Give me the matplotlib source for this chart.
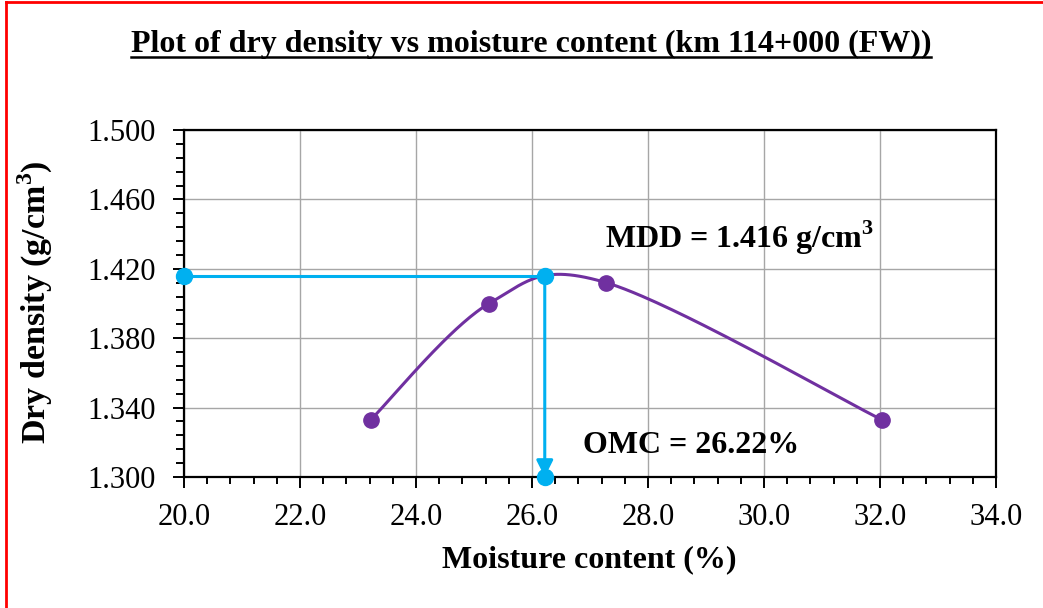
import numpy as np
import matplotlib
matplotlib.use("Agg")
import matplotlib.pyplot as plt
from matplotlib.lines import Line2D
from matplotlib.ticker import MultipleLocator, FormatStrFormatter

# Compaction test results
moisture = [23.22, 25.26, 27.28, 32.03]
dry_density = [1.333, 1.400, 1.412, 1.333]
omc = 26.22
mdd = 1.416

title = "Plot of dry density vs moisture content (km 114+000 (FW))"
xlabel = "Moisture content (%)"
ylabel = r"Dry density (g/cm$^{\mathbf{3}}$)"

plt.rcParams["font.family"] = "Liberation Serif"
plt.rcParams["mathtext.fontset"] = "custom"
plt.rcParams["mathtext.rm"] = "Liberation Serif"
plt.rcParams["mathtext.bf"] = "Liberation Serif:bold"

PURPLE = "#7030A0"
CYAN = "#00B0F0"


def smooth_curve(xs, ys, n=60):
    """Spreadsheet-style smoothed line: cubic Bezier segments with
    Catmull-Rom control points."""
    p = np.column_stack([xs, ys]).astype(float)
    out = []
    for i in range(len(p) - 1):
        p0 = p[i - 1] if i > 0 else p[i]
        p1, p2 = p[i], p[i + 1]
        p3 = p[i + 2] if i + 2 < len(p) else p[i + 1]
        c1 = p1 + (p2 - p0) / 6.0
        c2 = p2 - (p3 - p1) / 6.0
        t = np.linspace(0, 1, n)[:, None]
        seg = ((1 - t) ** 3) * p1 + 3 * ((1 - t) ** 2) * t * c1 \
            + 3 * (1 - t) * t ** 2 * c2 + t ** 3 * p2
        out.append(seg if i == 0 else seg[1:])
    pts = np.vstack(out)
    return pts[:, 0], pts[:, 1]


fig = plt.figure(figsize=(10.43, 6.08), dpi=100)
ax = fig.add_axes([184 / 1043, 1 - 477 / 608, 812 / 1043, 347 / 608])

ax.set_xlim(20, 34)
ax.set_ylim(1.300, 1.500)
ax.xaxis.set_major_locator(MultipleLocator(2))
ax.xaxis.set_minor_locator(MultipleLocator(0.4))
ax.yaxis.set_major_locator(MultipleLocator(0.04, offset=0.02))
ax.yaxis.set_minor_locator(MultipleLocator(0.008, offset=0.004))
ax.xaxis.set_major_formatter(FormatStrFormatter("%.1f"))
ax.yaxis.set_major_formatter(FormatStrFormatter("%.3f"))

ax.grid(True, which="major", color="#A6A6A6", linewidth=1.0)
ax.set_axisbelow(True)
for s in ax.spines.values():
    s.set_linewidth(1.6)
    s.set_color("black")

ax.tick_params(axis="both", which="both", direction="out", width=1.4,
               labelsize=22, colors="black")
ax.tick_params(axis="x", which="major", length=8, pad=11)
ax.tick_params(axis="x", which="minor", length=5)
ax.tick_params(axis="y", which="major", length=8, pad=12)
ax.tick_params(axis="y", which="minor", length=6)

# Compaction curve
sx, sy = smooth_curve(moisture, dry_density)
ax.plot(sx, sy, color=PURPLE, linewidth=2.2, zorder=3)
ax.plot(moisture, dry_density, "o", color=PURPLE, markersize=11, zorder=4)

# MDD / OMC guide lines
ax.plot([20, omc], [mdd, mdd], color=CYAN, linewidth=2.2, zorder=5,
        clip_on=False)
ax.annotate("", xy=(omc, 1.300), xytext=(omc, mdd),
            arrowprops=dict(arrowstyle="-|>,head_length=1.0,head_width=0.5",
                            color=CYAN, linewidth=2.2, shrinkA=0, shrinkB=0),
            zorder=5, annotation_clip=False)
ax.plot([20, omc, omc], [mdd, mdd, 1.300], "o", color=CYAN, markersize=11.5,
        zorder=6, clip_on=False)

ax.text(27.26, 1.432, r"MDD = 1.416 g/cm$^{\mathbf{3}}$", fontsize=23,
        fontweight="bold", ha="left", va="baseline", zorder=7)
ax.text(26.88, 1.318, "OMC = 26.22%", fontsize=23, fontweight="bold",
        ha="left", va="center", zorder=7)

fig.text(589 / 1043, 1 - 560 / 608, xlabel, fontsize=23, fontweight="bold",
         ha="center", va="center")
fig.text(35 / 1043, 1 - 302 / 608, ylabel, fontsize=24.5, fontweight="bold",
         ha="center", va="center", rotation=90)

t = fig.text(531 / 1043, 1 - 52 / 608, title, fontsize=23, fontweight="bold",
             ha="center", va="baseline")

# Underline the title
fig.canvas.draw()
bb = t.get_window_extent(fig.canvas.get_renderer())
W, H = fig.bbox.width, fig.bbox.height
uy = (H - 57) / H
fig.add_artist(Line2D([bb.x0 / W, bb.x1 / W], [uy, uy], color="black",
                      linewidth=1.8, transform=fig.transFigure))

# Frame edges around the chart area
fig.add_artist(Line2D([6 / W, 6 / W], [0, (H - 2) / H], color="red",
                      linewidth=2.0, transform=fig.transFigure))
fig.add_artist(Line2D([6 / W, 1], [(H - 2) / H, (H - 2) / H], color="red",
                      linewidth=2.0, transform=fig.transFigure))

fig.savefig("out.png", dpi=100, facecolor="white")
